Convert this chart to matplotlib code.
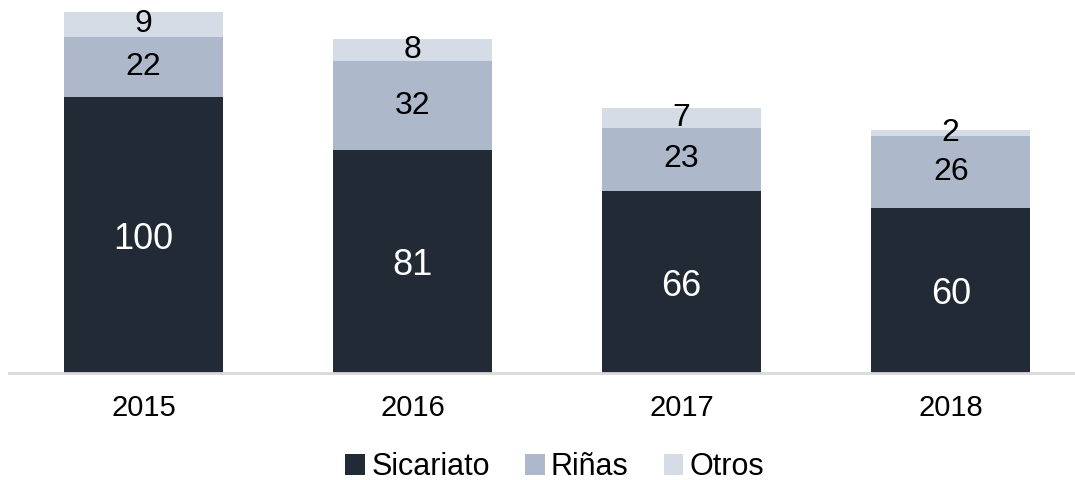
#Stacked bars: homicidios por tipo

import numpy as np
import matplotlib.pyplot as plt

#_________INPUT data_______
years = ["2015", "2016", "2017", "2018"]
sicariato = [100, 81, 66, 60]
rinas = [22, 32, 23, 26]
otros = [9, 8, 7, 2]

#_________Figure Style_______________________
plt.rcParams["font.family"] = ["Liberation Sans", "DejaVu Sans"]
plt.rcParams["figure.figsize"] = (10.75, 4.8)
plt.rcParams["figure.dpi"] = 100

c_sic = "#222a35"
c_rin = "#adb9ca"
c_otr = "#d6dce5"

fig = plt.figure()
ax = fig.add_axes([9/1075, 107/480, 1 - 9/1075, 1 - 107/480])

x = np.arange(len(years))
w = 0.59
sic = np.array(sicariato)
rin = np.array(rinas)
otr = np.array(otros)

b1 = ax.bar(x, sic, w, color=c_sic, label="Sicariato")
b2 = ax.bar(x, rin, w, bottom=sic, color=c_rin, label="Riñas")
b3 = ax.bar(x, otr, w, bottom=sic + rin, color=c_otr, label="Otros")

ax.bar_label(b1, label_type="center", color="white", fontsize=26, padding=-3)
ax.bar_label(b2, label_type="center", color="black", fontsize=23)
ax.bar_label(b3, label_type="center", color="black", fontsize=23)

ax.set_xlim(-0.5, 3.462)
ax.set_ylim(0, 135.3)
ax.set_xticks(x)
ax.set_xticklabels(years, fontsize=21)
ax.tick_params(axis="x", length=0, pad=15)
ax.set_yticks([])
for s in ["top", "right", "left"]:
    ax.spines[s].set_visible(False)
ax.spines["bottom"].set_color("#d9d9d9")
ax.spines["bottom"].set_linewidth(2)

fig.legend(handles=[b1, b2, b3], loc="center", bbox_to_anchor=(0.516, 0.027),
           ncol=3, frameon=False, fontsize=22, handlelength=0.65, handleheight=0.65,
           handletextpad=0.2, columnspacing=1.15, borderpad=0)

fig.savefig("out.png")
